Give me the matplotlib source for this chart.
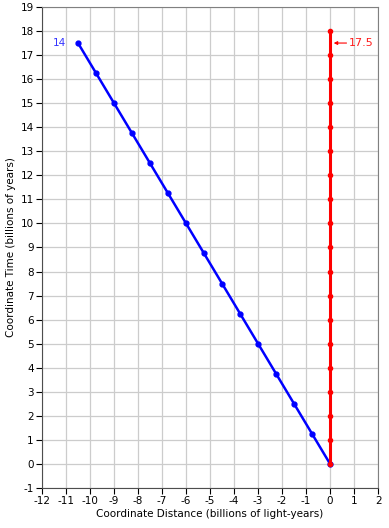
import matplotlib
matplotlib.use('Agg')
import matplotlib.pyplot as plt
from matplotlib.ticker import MultipleLocator

# Light-ray path (blue) and our worldline (red)
blue_x = [0, -0.75, -1.5, -2.25, -3, -3.75, -4.5, -5.25, -6, -6.75, -7.5,
          -8.25, -9, -9.75, -10.5]
blue_t = [0, 1.25, 2.5, 3.75, 5, 6.25, 7.5, 8.75, 10, 11.25, 12.5,
          13.75, 15, 16.25, 17.5]
red_x = [0] * 19
red_t = [0, 1, 2, 3, 4, 5, 6, 7, 8, 9, 10, 11, 12, 13, 14, 15, 16, 17, 18]
blue_label = '14'
red_label = '17.5'
red_label_t = 17.5

plt.rcParams['font.family'] = 'DejaVu Sans'
plt.rcParams['font.size'] = 7.5
plt.rcParams['axes.unicode_minus'] = False

fig = plt.figure(figsize=(3.89, 5.28), dpi=100, facecolor='white')
ax = fig.add_axes([0.108, 0.0758, 0.864, 0.911])

ax.plot(blue_x, blue_t, color=(0, 0, 1), linewidth=1.8, marker='o',
        markersize=3.5, zorder=3)
ax.plot(red_x, red_t, color=(1, 0, 0), linewidth=2.2, marker='o',
        markersize=3, zorder=3)

ax.text(blue_x[-1] - 0.5, blue_t[-1], blue_label, color=(0.2, 0.2, 1),
        ha='right', va='center', fontsize=7.5)
ax.annotate(red_label, xy=(0.15, red_label_t), xytext=(0.8, red_label_t),
            color=(1, 0.1, 0.1), ha='left', va='center', fontsize=8,
            arrowprops=dict(arrowstyle='-|>', color=(1, 0, 0), lw=0.8,
                            mutation_scale=5, shrinkA=0, shrinkB=0))

ax.set_xlim(-12, 2)
ax.set_ylim(-1, 19)
ax.xaxis.set_major_locator(MultipleLocator(1))
ax.yaxis.set_major_locator(MultipleLocator(1))
ax.grid(True, color=(0.8, 0.8, 0.8), linewidth=0.9)
ax.set_axisbelow(True)

for side in ['top', 'right']:
    ax.spines[side].set_color((0.5, 0.5, 0.5))
for side in ['left', 'bottom']:
    ax.spines[side].set_color((0.3, 0.3, 0.3))
ax.tick_params(length=4, width=0.8, color='black', pad=2)

ax.set_xlabel('Coordinate Distance (billions of light-years)', labelpad=2)
ax.set_ylabel('Coordinate Time (billions of years)', labelpad=3)

fig.savefig('out.png', dpi=100)
